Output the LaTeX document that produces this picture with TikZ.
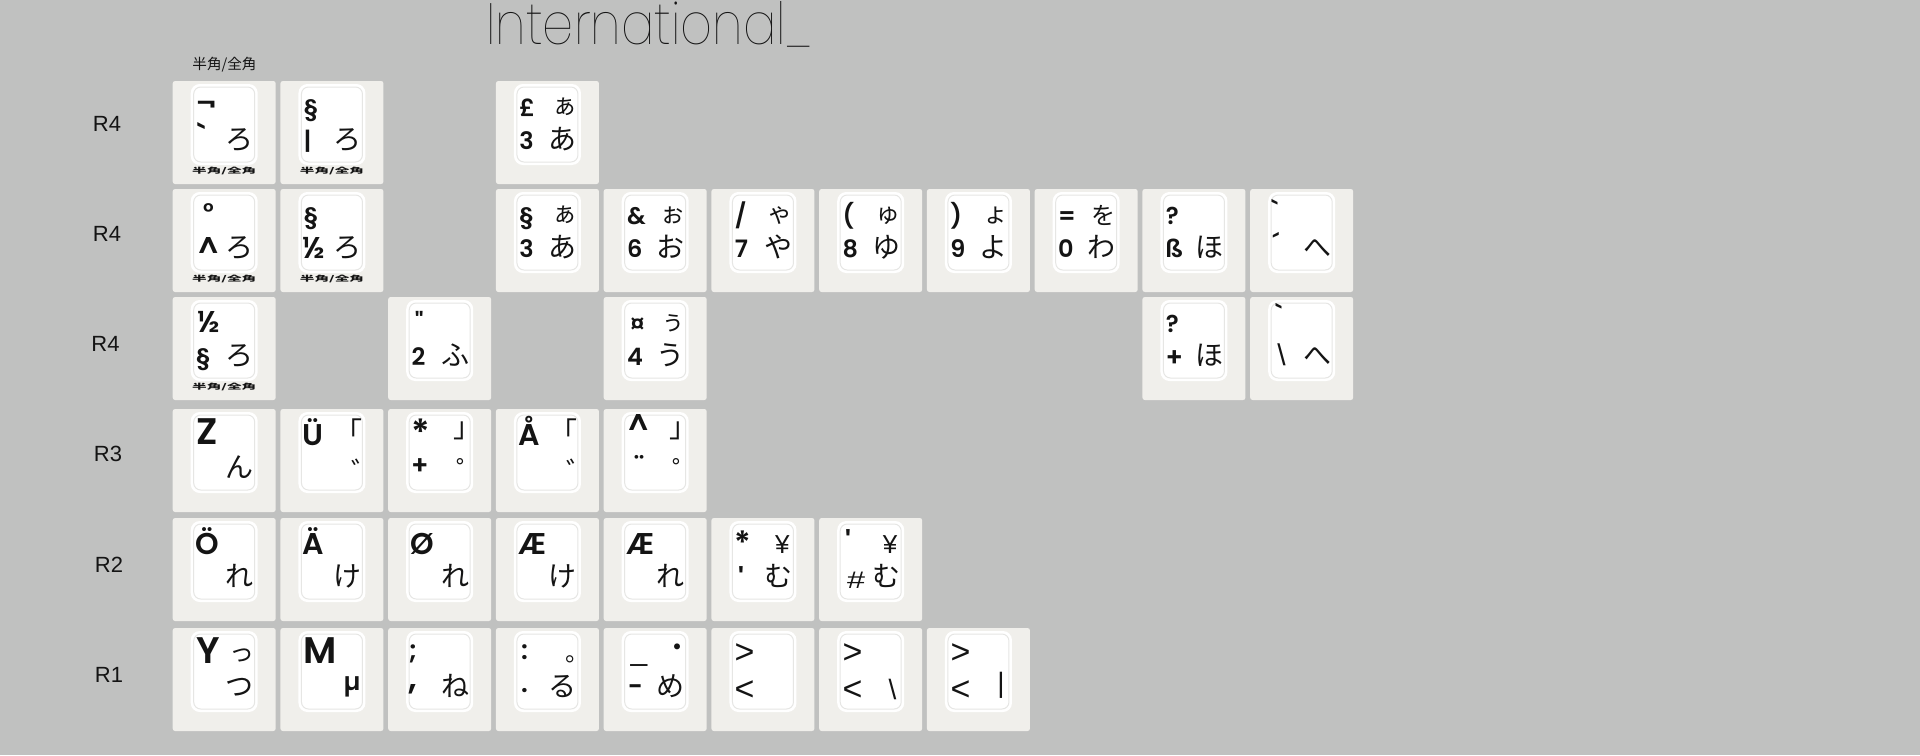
\documentclass[tikz,border=0pt]{standalone}
\usepackage{fontspec}
\usepackage{graphicx}
\IfFontExistsTF{Poppins SemiBold}{\newfontfamily\legfont{Poppins}[BoldFont={Poppins SemiBold}]}{%
  \IfFontExistsTF{Poppins Bold}{\newfontfamily\legfont{Poppins}[BoldFont={Poppins Bold}]}{\newfontfamily\legfont{Liberation Sans}}}
\newfontfamily\regfont{Liberation Sans}
\newfontfamily\jp{Noto Sans CJK JP}
\IfFontExistsTF{Poppins Thin}{\newfontfamily\titlefont{Poppins Thin}}{%
  \IfFontExistsTF{Poppins ExtraLight}{\newfontfamily\titlefont{Poppins ExtraLight}}{%
    \IfFontExistsTF{Poppins Light}{\newfontfamily\titlefont{Poppins Light}}{\newfontfamily\titlefont{Poppins}}}}
\definecolor{bgc}{HTML}{C0C1C0}
\definecolor{keyc}{HTML}{F0EFEB}
\definecolor{capline}{HTML}{E6E6E4}
\definecolor{ink}{HTML}{141414}
\newcommand\Bf[1]{\legfont\bfseries\fontsize{#1}{#1}\selectfont}
\newcommand\Rf[1]{\regfont\fontsize{#1}{#1}\selectfont}
\newcommand\Jf[1]{\jp\fontsize{#1}{#1}\selectfont}
\newcount\lgn
\newcommand\keylg[4]{\global\advance\lgn by 1\relax
  \edef\lgname{lg\the\lgn}%
  \node[leg,#1] (\lgname) at ({\kL+#2},{\kT+#3}) {#4};}
\newcommand\keyat[3]{\pgfmathsetmacro\kL{172.7+107.75*#1}\def\kT{#2}%
  \node[keybg] (#3) at (\kL,\kT) {};
  \node[keycap] (#3c) at ({\kL+18},{\kT+3}) {};
  \node[capin] (#3i) at (#3c.center) {};}
\newcommand\TLs[1]{\keylg{anchor=base west}{23.5}{35}{#1}}
\newcommand\BLs[1]{\keylg{anchor=base west}{23.5}{68}{#1}}
\newcommand\TRk[1]{\keylg{jpk,font={\Jf{12.5pt}},anchor=base east}{81.5}{33.5}{#1}}
\newcommand\BRk[1]{\keylg{jpk,anchor=base east}{81}{68.5}{#1}}
\newcommand\BIGL[1]{\keylg{bigl,anchor=base west}{23.5}{35.5}{#1}}
\newcommand\MIDL[1]{\keylg{midl,anchor=base west}{22.5}{36}{#1}}
\newcommand\HZ{\keylg{anchor=center}{51.5}{89.5}{\resizebox{32pt}{3.2pt}{\jp 半角/全角}}}
\newcommand\CB[4]{\keylg{anchor=center,font={\Bf{#3}}}{#1}{#2}{#4}}
\newcommand\CR[4]{\keylg{anchor=center,font={\Rf{#3}}}{#1}{#2}{#4}}
\newcommand\OpenBr{\keylg{jpk,anchor=north east}{82}{10}{「}}
\newcommand\CloseBr{\keylg{jpk,anchor=south west}{65.6}{31}{」}}
\newcommand\Daku{\keylg{jpk,anchor=north east}{99}{50}{゛}}
\newcommand\Handaku{\keylg{jpk,anchor=north east}{96.5}{49.3}{゜}}
\begin{document}
\begin{tikzpicture}[x=0.5pt,y=-0.5pt,
  keybg/.style={anchor=north west,minimum width=51.5pt,minimum height=51.5pt,inner sep=0,outer sep=0,fill=keyc,rounded corners=1.2pt},
  keycap/.style={anchor=north west,minimum width=33.5pt,minimum height=40.5pt,inner sep=0,outer sep=0,fill=white,rounded corners=4.5pt},
  capin/.style={anchor=center,minimum width=30.5pt,minimum height=37.5pt,inner sep=0,outer sep=0,draw=capline,line width=0.5pt,rounded corners=3.5pt},
  leg/.style={inner sep=0,outer sep=0,text=ink,font={\Bf{12pt}}},
  jpk/.style={font={\Jf{14pt}}},
  bigl/.style={font={\Bf{18.5pt}}},
  midl/.style={font={\Bf{15pt}}},
  rowlab/.style={inner sep=0,text=ink,font={\Rf{11pt}}}]
\useasboundingbox (0,0) rectangle (1920,755);
\fill[bgc] (0,0) rectangle (1920,755);
% title
\node[anchor=base west,inner sep=0,text=ink] (title) at (486,44.3) {\resizebox{162.8pt}{21.5pt}{\titlefont International\_}};
\node[inner sep=0,text=ink,font={\Jf{7.3pt}}] (toplab) at (224.5,65) {半角/全角};
% row labels
\node[rowlab] (rl1) at (107,123.7) {R4};
\node[rowlab] (rl2) at (107,233.9) {R4};
\node[rowlab] (rl3) at (105.5,344) {R4};
\node[rowlab] (rl4) at (108,454) {R3};
\node[rowlab] (rl5) at (109,564.5) {R2};
\node[rowlab] (rl6) at (109,674.7) {R1};
% ---- row 0
\keyat{0}{81}{k00} \CB{33.6}{26.2}{14pt}{¬} \CB{29.5}{54.5}{16pt}{\char"60} \BRk{ろ} \HZ
\keyat{1}{81}{k01} \TLs{§} \BLs{|} \BRk{ろ} \HZ
\keyat{3}{81}{k03} \TLs{£} \TRk{ぁ} \BLs{3} \BRk{あ}
% ---- row 1
\keyat{0}{189}{k10} \CB{35.7}{23.5}{12pt}{°} \CB{35.5}{58.5}{15pt}{\char"5E} \BRk{ろ} \HZ
\keyat{1}{189}{k11} \TLs{§} \CB{33.8}{59.3}{15pt}{½} \BRk{ろ} \HZ
\keyat{3}{189}{k13} \TLs{§} \TRk{ぁ} \BLs{3} \BRk{あ}
\keyat{4}{189}{k14} \TLs{\&} \TRk{ぉ} \BLs{6} \BRk{お}
\keyat{5}{189}{k15} \TLs{/} \TRk{ゃ} \BLs{7} \BRk{や}
\keyat{6}{189}{k16} \TLs{(} \TRk{ゅ} \BLs{8} \BRk{ゆ}
\keyat{7}{189}{k17} \TLs{)} \TRk{ょ} \BLs{9} \BRk{よ}
\keyat{8}{189}{k18} \TLs{=} \keylg{font={\Jf{12pt}},anchor=base east}{80.5}{35.5}{を} \BLs{0} \BRk{わ}
\keyat{9}{189}{k19} \TLs{?} \BLs{ß} \BRk{ほ}
\keyat{10}{189}{k1a} \CB{24.8}{21}{13pt}{\char"60} \CB{25.7}{54.3}{13pt}{´} \BRk{へ}
% ---- row 2
\keyat{0}{297}{k20} \CB{36.3}{25}{15pt}{½} \BLs{§} \BRk{ろ} \HZ
\keyat{2}{297}{k22} \CB{31}{23.9}{12pt}{\char"22} \BLs{2} \BRk{ふ}
\keyat{4}{297}{k24} \CB{33.8}{28.8}{14pt}{¤} \TRk{ぅ} \BLs{4} \BRk{う}
\keyat{9}{297}{k29} \TLs{?} \CB{31.9}{61.3}{13pt}{+} \BRk{ほ}
\keyat{10}{297}{k2a} \CB{28.7}{16.5}{13pt}{\char"60} \CR{31.2}{57.8}{15pt}{\char"5C} \BRk{へ}
% ---- row 3
\keyat{0}{409}{k30} \BIGL{Z} \BRk{ん}
\keyat{1}{409}{k31} \MIDL{Ü} \OpenBr \Daku
\keyat{2}{409}{k32} \CB{32.6}{23.5}{18pt}{*} \CloseBr \CB{31.8}{57.7}{13pt}{+} \Handaku
\keyat{3}{409}{k33} \MIDL{Å} \OpenBr \Daku
\keyat{4}{409}{k34} \CB{34.6}{16}{15pt}{\char"5E} \CloseBr \CB{35.5}{56.5}{14pt}{¨} \Handaku
% ---- row 4
\keyat{0}{518}{k40} \MIDL{Ö} \BRk{れ}
\keyat{1}{518}{k41} \MIDL{Ä} \BRk{け}
\keyat{2}{518}{k42} \MIDL{Ø} \BRk{れ}
\keyat{3}{518}{k43} \MIDL{Æ} \BRk{け}
\keyat{4}{518}{k44} \MIDL{Æ} \BRk{れ}
\keyat{5}{518}{k45} \CB{31}{24.5}{16pt}{*} \keylg{font={\Rf{13pt}},anchor=base east}{78}{35.3}{¥} \CB{30}{61}{15pt}{\char"27} \BRk{む}
\keyat{6}{518}{k46} \CB{29}{23.7}{15pt}{\char"27} \keylg{font={\Rf{13pt}},anchor=base east}{78}{35.3}{¥} \CR{36.8}{62}{12pt}{\scalebox{1.35}[1]{\#}} \BRk{む}
% ---- row 5
\keyat{0}{628}{k50} \BIGL{Y} \TRk{っ} \BRk{つ}
\keyat{1}{628}{k51} \BIGL{M} \keylg{font={\Bf{12.5pt}},anchor=base east}{80}{62}{µ}
\keyat{2}{628}{k52} \CB{25}{26}{13pt}{;} \CB{25}{61}{17pt}{,} \BRk{ね}
\keyat{3}{628}{k53} \CB{28.5}{23.7}{13pt}{:} \keylg{font={\Jf{12pt}},anchor=south west}{69.5}{35.3}{。} \CB{28.5}{63}{13pt}{.} \BRk{る}
\keyat{4}{628}{k54} \CR{35.3}{35}{15pt}{\char"5F} \keylg{jpk,anchor=center}{74}{23}{・} \CB{31.7}{62}{13pt}{-} \BRk{め}
\keyat{5}{628}{k55} \CR{33}{26}{17pt}{>} \CR{33}{63}{17pt}{<}
\keyat{6}{628}{k56} \CR{33.3}{26}{17pt}{>} \CR{33.3}{63}{17pt}{<} \CR{73.3}{61.2}{14pt}{\char"5C}
\keyat{7}{628}{k57} \CR{33.6}{26}{17pt}{>} \CR{33.6}{63}{17pt}{<} \CR{74}{57}{14pt}{|}
\end{tikzpicture}
\end{document}
